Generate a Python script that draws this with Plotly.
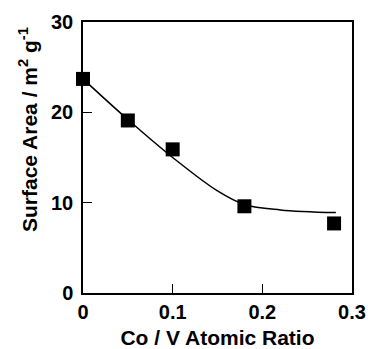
import plotly.graph_objects as go

# Measured data points
ratio = [0.0, 0.05, 0.10, 0.18, 0.28]
area = [23.7, 19.1, 15.9, 9.6, 7.7]

# Fitted curve
curve_x = [0.0, 0.05, 0.10, 0.15, 0.18, 0.22, 0.282]
curve_y = [23.7, 19.2, 15.0, 11.3, 9.8, 9.2, 8.9]

x_ticks = [0, 0.1, 0.2, 0.3]
x_tick_labels = ["0", "0.1", "0.2", "0.3"]
y_ticks = [0, 10, 20, 30]
y_tick_labels = ["0", "10", "20", "30"]

x_title = "<b>Co / V Atomic Ratio</b>"
y_title = "<b>Surface Area / m<sup>2</sup> g<sup>-1</sup></b>"

font_family = "Liberation Sans, Arial, sans-serif"

fig = go.Figure()
fig.add_trace(go.Scatter(x=curve_x, y=curve_y, mode="lines",
                         line=dict(color="black", width=1.5, shape="spline", smoothing=1.0),
                         hoverinfo="skip", showlegend=False, cliponaxis=False))
fig.add_trace(go.Scatter(x=ratio, y=area, mode="markers",
                         marker=dict(symbol="square", size=14, color="black"),
                         showlegend=False, cliponaxis=False))

axis_common = dict(showline=True, linecolor="black", linewidth=1.5, mirror=True,
                   ticks="inside", ticklen=9, tickwidth=1, tickcolor="black",
                   showgrid=False, zeroline=False, automargin=False,
                   tickfont=dict(family=font_family, size=20, color="black", weight="bold"))

fig.update_layout(
    width=368, height=349,
    margin=dict(l=83, r=16, t=22, b=56),
    plot_bgcolor="white", paper_bgcolor="white",
    font=dict(family=font_family, color="black"),
    xaxis=dict(range=[0, 0.3], tickvals=x_ticks, ticktext=x_tick_labels,
               ticklabelstandoff=0,
               title=dict(text=x_title, standoff=14,
                          font=dict(family=font_family, size=21, color="black")),
               **axis_common),
    yaxis=dict(range=[0, 30], tickvals=y_ticks, ticktext=y_tick_labels,
               ticklabelstandoff=4,
               **axis_common),
)

fig.add_annotation(text=y_title, xref="paper", yref="paper", x=0, y=0.6015,
                   xanchor="center", yanchor="middle", xshift=-55, textangle=-90,
                   showarrow=False,
                   font=dict(family=font_family, size=21, color="black"))

fig.write_html("out.html", config={"displayModeBar": False},
               post_script="document.body.style.margin='0';document.body.style.overflow='hidden';")
